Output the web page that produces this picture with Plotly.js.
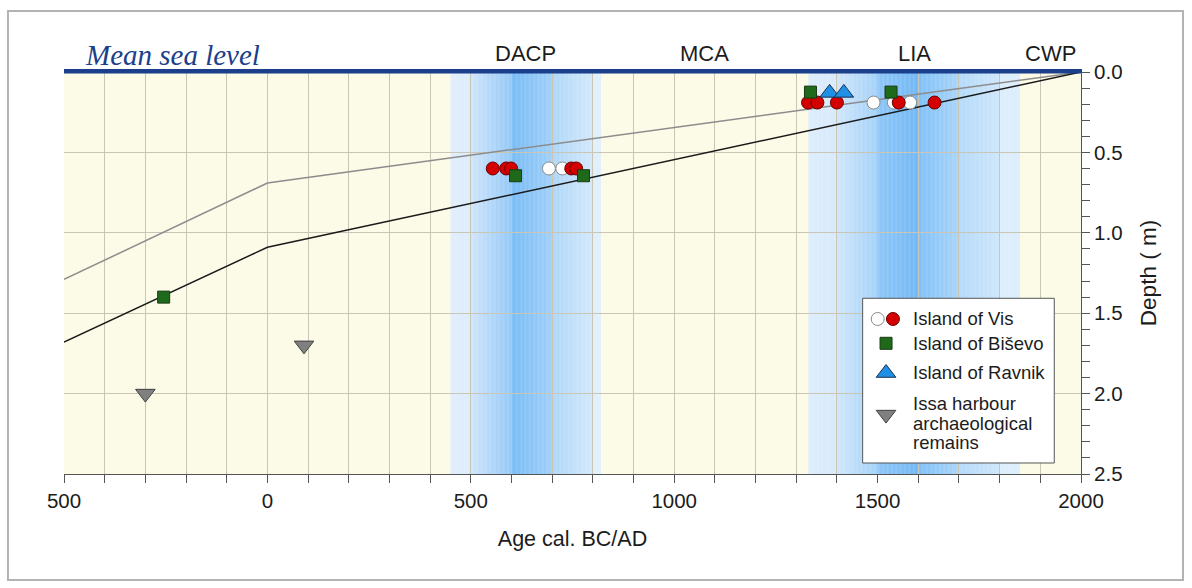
<!DOCTYPE html>
<html>
<head>
<meta charset="utf-8">
<script src="https://cdn.plot.ly/plotly-3.0.1.min.js"></script>
<style>
  html, body { margin: 0; padding: 0; background: #ffffff; }
  #chart { width: 1192px; height: 588px; }
</style>
</head>
<body>
<div id="chart"></div>
<script>
// ---------------- DATA ----------------
// Climate periods (years cal. BC/AD, negative = BC)
const periodNames = ['DACP', 'MCA', 'LIA', 'CWP'];
const periodStart = [450, 820, 1330, 1850];
const periodEnd   = [820, 1330, 1850, 2000];
const coldPeriods = ['DACP', 'LIA'];

// Island of Vis (open and filled circles)
const visOpenAge   = [692, 725, 1490, 1540, 1580];
const visOpenDepth = [0.60, 0.60, 0.19, 0.19, 0.19];
const visFillAge   = [554, 587, 599, 747, 759, 1329, 1352, 1400, 1552, 1640];
const visFillDepth = [0.60, 0.60, 0.60, 0.60, 0.60, 0.19, 0.19, 0.19, 0.19, 0.19];

// Island of Biševo
const bisevoAge   = [-255, 610, 777, 1335, 1533];
const bisevoDepth = [1.40, 0.645, 0.645, 0.125, 0.125];

// Island of Ravnik
const ravnikAge   = [1382, 1417];
const ravnikDepth = [0.13, 0.13];

// Issa harbour archaeological remains
const issaAge   = [-300, 90];
const issaDepth = [2.0, 1.7];

// Sea-level curves
const upperCurveAge   = [-500, 0, 2000];
const upperCurveDepth = [1.29, 0.69, 0.0];
const lowerCurveAge   = [-500, 0, 2000];
const lowerCurveDepth = [1.68, 1.09, 0.0];

// Mean sea level
const seaLevelAge   = [-500, 2000];
const seaLevelDepth = [0, 0];

// Axis ticks
const xTickVals = [-500, 0, 500, 1000, 1500, 2000];
const xTickText = ['500', '0', '500', '1000', '1500', '2000'];
const yTickVals = [0, 0.5, 1.0, 1.5, 2.0, 2.5];

const legendLabels = ['Island of Vis', 'Island of Biševo', 'Island of Ravnik'];
const issaLegendLines = ['Issa harbour', 'archaeological', 'remains'];

// ---------------- STYLE ----------------
const FONT = "'Liberation Sans', Arial, sans-serif";
const TXT = '#1c1c1c';
const GRID = '#c9c6b6';
const SEA = '#1b3f8b';
const X_RANGE = [-500, 2000];
const Y_RANGE = [2.5, 0];

// gradient stops per cold band (style only)
const bandStops = {
  DACP: [[450,'#e0effd'],[500,'#dbecfd'],[500,'#cfe5fc'],[600,'#93c8f8'],[600,'#76bbf7'],
         [700,'#9ecff9'],[700,'#acd6fa'],[800,'#d2e8fc'],[800,'#e0effd'],[820,'#e0effd']],
  LIA:  [[1330,'#dbecfd'],[1400,'#d8eafc'],[1400,'#cfe6fc'],[1500,'#a3d1fa'],[1500,'#8dc6f8'],
         [1600,'#6fb7f7'],[1600,'#7ebff8'],[1700,'#a8d4fa'],[1700,'#b3d9fb'],[1800,'#cde6fc'],
         [1800,'#dcedfd'],[1850,'#dcedfd']]
};

function hexToRgb(h) {
  return [parseInt(h.slice(1,3),16), parseInt(h.slice(3,5),16), parseInt(h.slice(5,7),16)];
}
function colorAt(stops, x) {
  for (let i = 0; i < stops.length - 1; i++) {
    const a = stops[i], b = stops[i+1];
    if (x >= a[0] && x <= b[0] && b[0] > a[0]) {
      const t = (x - a[0]) / (b[0] - a[0]);
      const ca = hexToRgb(a[1]), cb = hexToRgb(b[1]);
      const c = ca.map((v, k) => Math.round(v + (cb[k] - v) * t));
      return 'rgb(' + c.join(',') + ')';
    }
  }
  return stops[stops.length-1][1];
}

const shapes = [];
// gradient bands (below grid)
periodNames.forEach((name, i) => {
  if (coldPeriods.indexOf(name) < 0) return;
  const s = periodStart[i], e = periodEnd[i], step = 2;
  for (let x = s; x < e; x += step) {
    shapes.push({
      type: 'rect', layer: 'below', xref: 'x', yref: 'y',
      x0: x, x1: Math.min(x + step * 1.4, e), y0: Y_RANGE[0], y1: Y_RANGE[1],
      fillcolor: colorAt(bandStops[name], x + step / 2), line: { width: 0 }
    });
  }
});
// outer frame
shapes.push({
  type: 'rect', xref: 'paper', yref: 'paper', layer: 'above',
  x0: -0.0551, x1: 1.1003, y0: -0.2637, y1: 1.1517,
  line: { color: '#b3b3b3', width: 2 }, fillcolor: 'rgba(0,0,0,0)'
});

const annotations = [];
periodNames.forEach((name, i) => {
  annotations.push({
    x: (periodStart[i] + periodEnd[i]) / 2, xref: 'x',
    y: 1.045, yref: 'paper', yanchor: 'middle', xanchor: 'center',
    text: name, showarrow: false,
    font: { family: FONT, size: 22, color: TXT }
  });
});
annotations.push({
  x: 0.0187, xref: 'paper', y: 1.043, yref: 'paper', xanchor: 'left', yanchor: 'middle',
  text: '<i>Mean sea level</i>', showarrow: false,
  font: { family: "'Liberation Serif', 'Times New Roman', serif", size: 29, color: SEA }
});

// legend (custom, in normalized overlay coords)
const LG = { x0: 0.7853, x1: 0.9737, y0: 0.0274, y1: 0.4371, textX: 0.8326 };
const legendRowY = [0.3856, 0.3251, 0.2520];
const issaRowY = [0.1759, 0.1261, 0.0789];
legendLabels.forEach((t, i) => {
  annotations.push({ x: LG.textX, xref: 'paper', y: legendRowY[i], yref: 'paper',
    xanchor: 'left', yanchor: 'middle', text: t, showarrow: false,
    font: { family: FONT, size: 18.5, color: TXT } });
});
issaLegendLines.forEach((t, i) => {
  annotations.push({ x: LG.textX, xref: 'paper', y: issaRowY[i], yref: 'paper',
    xanchor: 'left', yanchor: 'middle', text: t, showarrow: false,
    font: { family: FONT, size: 18.5, color: TXT } });
});

const mk = {
  visOpen: { symbol: 'circle', size: 13, color: '#ffffff', line: { color: '#8a8a8a', width: 1 } },
  visFill: { symbol: 'circle', size: 13, color: '#d40000', line: { color: '#6a0000', width: 1 } },
  bisevo:  { symbol: 'square', size: 12, color: '#1f6a1a', line: { color: '#1a3a14', width: 1 } },
  ravnik:  { symbol: 'triangle-up', size: 17, color: '#1e90e6', line: { color: '#1a3050', width: 1 } },
  issa:    { symbol: 'triangle-down', size: 17, color: '#808080', line: { color: '#404040', width: 1 } }
};

const traces = [
  { x: upperCurveAge, y: upperCurveDepth, mode: 'lines', line: { color: '#8c8c8c', width: 1.5 },
    hoverinfo: 'skip', showlegend: false },
  { x: lowerCurveAge, y: lowerCurveDepth, mode: 'lines', line: { color: '#1a1a1a', width: 1.5 },
    hoverinfo: 'skip', showlegend: false },
  { x: visOpenAge, y: visOpenDepth, mode: 'markers', marker: mk.visOpen, name: 'Island of Vis', showlegend: false },
  { x: visFillAge, y: visFillDepth, mode: 'markers', marker: mk.visFill, name: 'Island of Vis', showlegend: false },
  { x: bisevoAge, y: bisevoDepth, mode: 'markers', marker: mk.bisevo, name: 'Island of Biševo', showlegend: false },
  { x: ravnikAge, y: ravnikDepth, mode: 'markers', marker: mk.ravnik, name: 'Island of Ravnik', showlegend: false },
  { x: issaAge, y: issaDepth, mode: 'markers', marker: mk.issa, name: 'Issa harbour archaeological remains', showlegend: false },
  { x: seaLevelAge, y: seaLevelDepth, xaxis: 'x2', yaxis: 'y', mode: 'lines',
    line: { color: SEA, width: 3 }, hoverinfo: 'skip', showlegend: false },
  // legend box + symbols
  { x: [LG.x0, LG.x1, LG.x1, LG.x0, LG.x0], y: [LG.y1, LG.y1, LG.y0, LG.y0, LG.y1],
    xaxis: 'x3', yaxis: 'y3', mode: 'lines', fill: 'toself', fillcolor: '#ffffff',
    line: { color: '#555555', width: 1 }, hoverinfo: 'skip', showlegend: false },
  { x: [0.8001], y: [legendRowY[0]], xaxis: 'x3', yaxis: 'y3', mode: 'markers', marker: mk.visOpen, hoverinfo: 'skip', showlegend: false },
  { x: [0.8151], y: [legendRowY[0]], xaxis: 'x3', yaxis: 'y3', mode: 'markers', marker: mk.visFill, hoverinfo: 'skip', showlegend: false },
  { x: [0.8083], y: [legendRowY[1]], xaxis: 'x3', yaxis: 'y3', mode: 'markers', marker: mk.bisevo, hoverinfo: 'skip', showlegend: false },
  { x: [0.8083], y: [0.2512], xaxis: 'x3', yaxis: 'y3', mode: 'markers', marker: mk.ravnik, hoverinfo: 'skip', showlegend: false },
  { x: [0.8083], y: [0.1478], xaxis: 'x3', yaxis: 'y3', mode: 'markers', marker: mk.issa, hoverinfo: 'skip', showlegend: false }
];

const layout = {
  width: 1192, height: 588,
  margin: { l: 64, r: 111, t: 72, b: 114 },
  paper_bgcolor: '#ffffff',
  plot_bgcolor: '#fcfbe7',
  showlegend: false,
  font: { family: FONT, color: TXT },
  xaxis: {
    range: X_RANGE, tickmode: 'array', tickvals: xTickVals, ticktext: xTickText,
    ticks: 'outside', ticklen: 8, tickcolor: '#555', tickwidth: 1,
    showgrid: true, gridcolor: GRID, gridwidth: 1,
    minor: { tickmode: 'linear', tick0: -500, dtick: 100, ticks: 'outside', ticklen: 8,
             tickcolor: '#555', showgrid: true, gridcolor: GRID, gridwidth: 1 },
    showline: true, linecolor: '#555', linewidth: 1, zeroline: false,
    tickfont: { family: FONT, size: 20.5, color: TXT },
    title: { text: 'Age cal. BC/AD', font: { family: FONT, size: 21.5, color: TXT }, standoff: 20 },
    fixedrange: true
  },
  xaxis2: {
    overlaying: 'x', side: 'top', anchor: 'y', range: X_RANGE,
    showline: true, linecolor: SEA, linewidth: 3, showgrid: false, zeroline: false,
    ticks: '', showticklabels: false
  },
  yaxis: {
    range: Y_RANGE, side: 'right', tickmode: 'array', tickvals: yTickVals, tickformat: '.1f',
    ticks: 'outside', ticklen: 8, tickcolor: '#555', tickwidth: 1,
    showgrid: true, gridcolor: GRID, gridwidth: 1,
    minor: { tickmode: 'linear', tick0: 0, dtick: 0.1, ticks: 'outside', ticklen: 8,
             tickcolor: '#555', showgrid: false },
    showline: true, linecolor: '#555', linewidth: 1, zeroline: false,
    tickfont: { family: FONT, size: 20.5, color: TXT },
    title: { text: 'Depth ( m)', font: { family: FONT, size: 22.5, color: TXT }, standoff: 18 },
    fixedrange: true
  },
  xaxis3: { overlaying: 'x', anchor: 'y3', range: [0, 1], visible: false, fixedrange: true },
  yaxis3: { overlaying: 'y', anchor: 'x3', range: [0, 1], visible: false, fixedrange: true },
  shapes: shapes,
  annotations: annotations
};

Plotly.newPlot('chart', traces, layout, { staticPlot: true, displayModeBar: false });
</script>
</body>
</html>
